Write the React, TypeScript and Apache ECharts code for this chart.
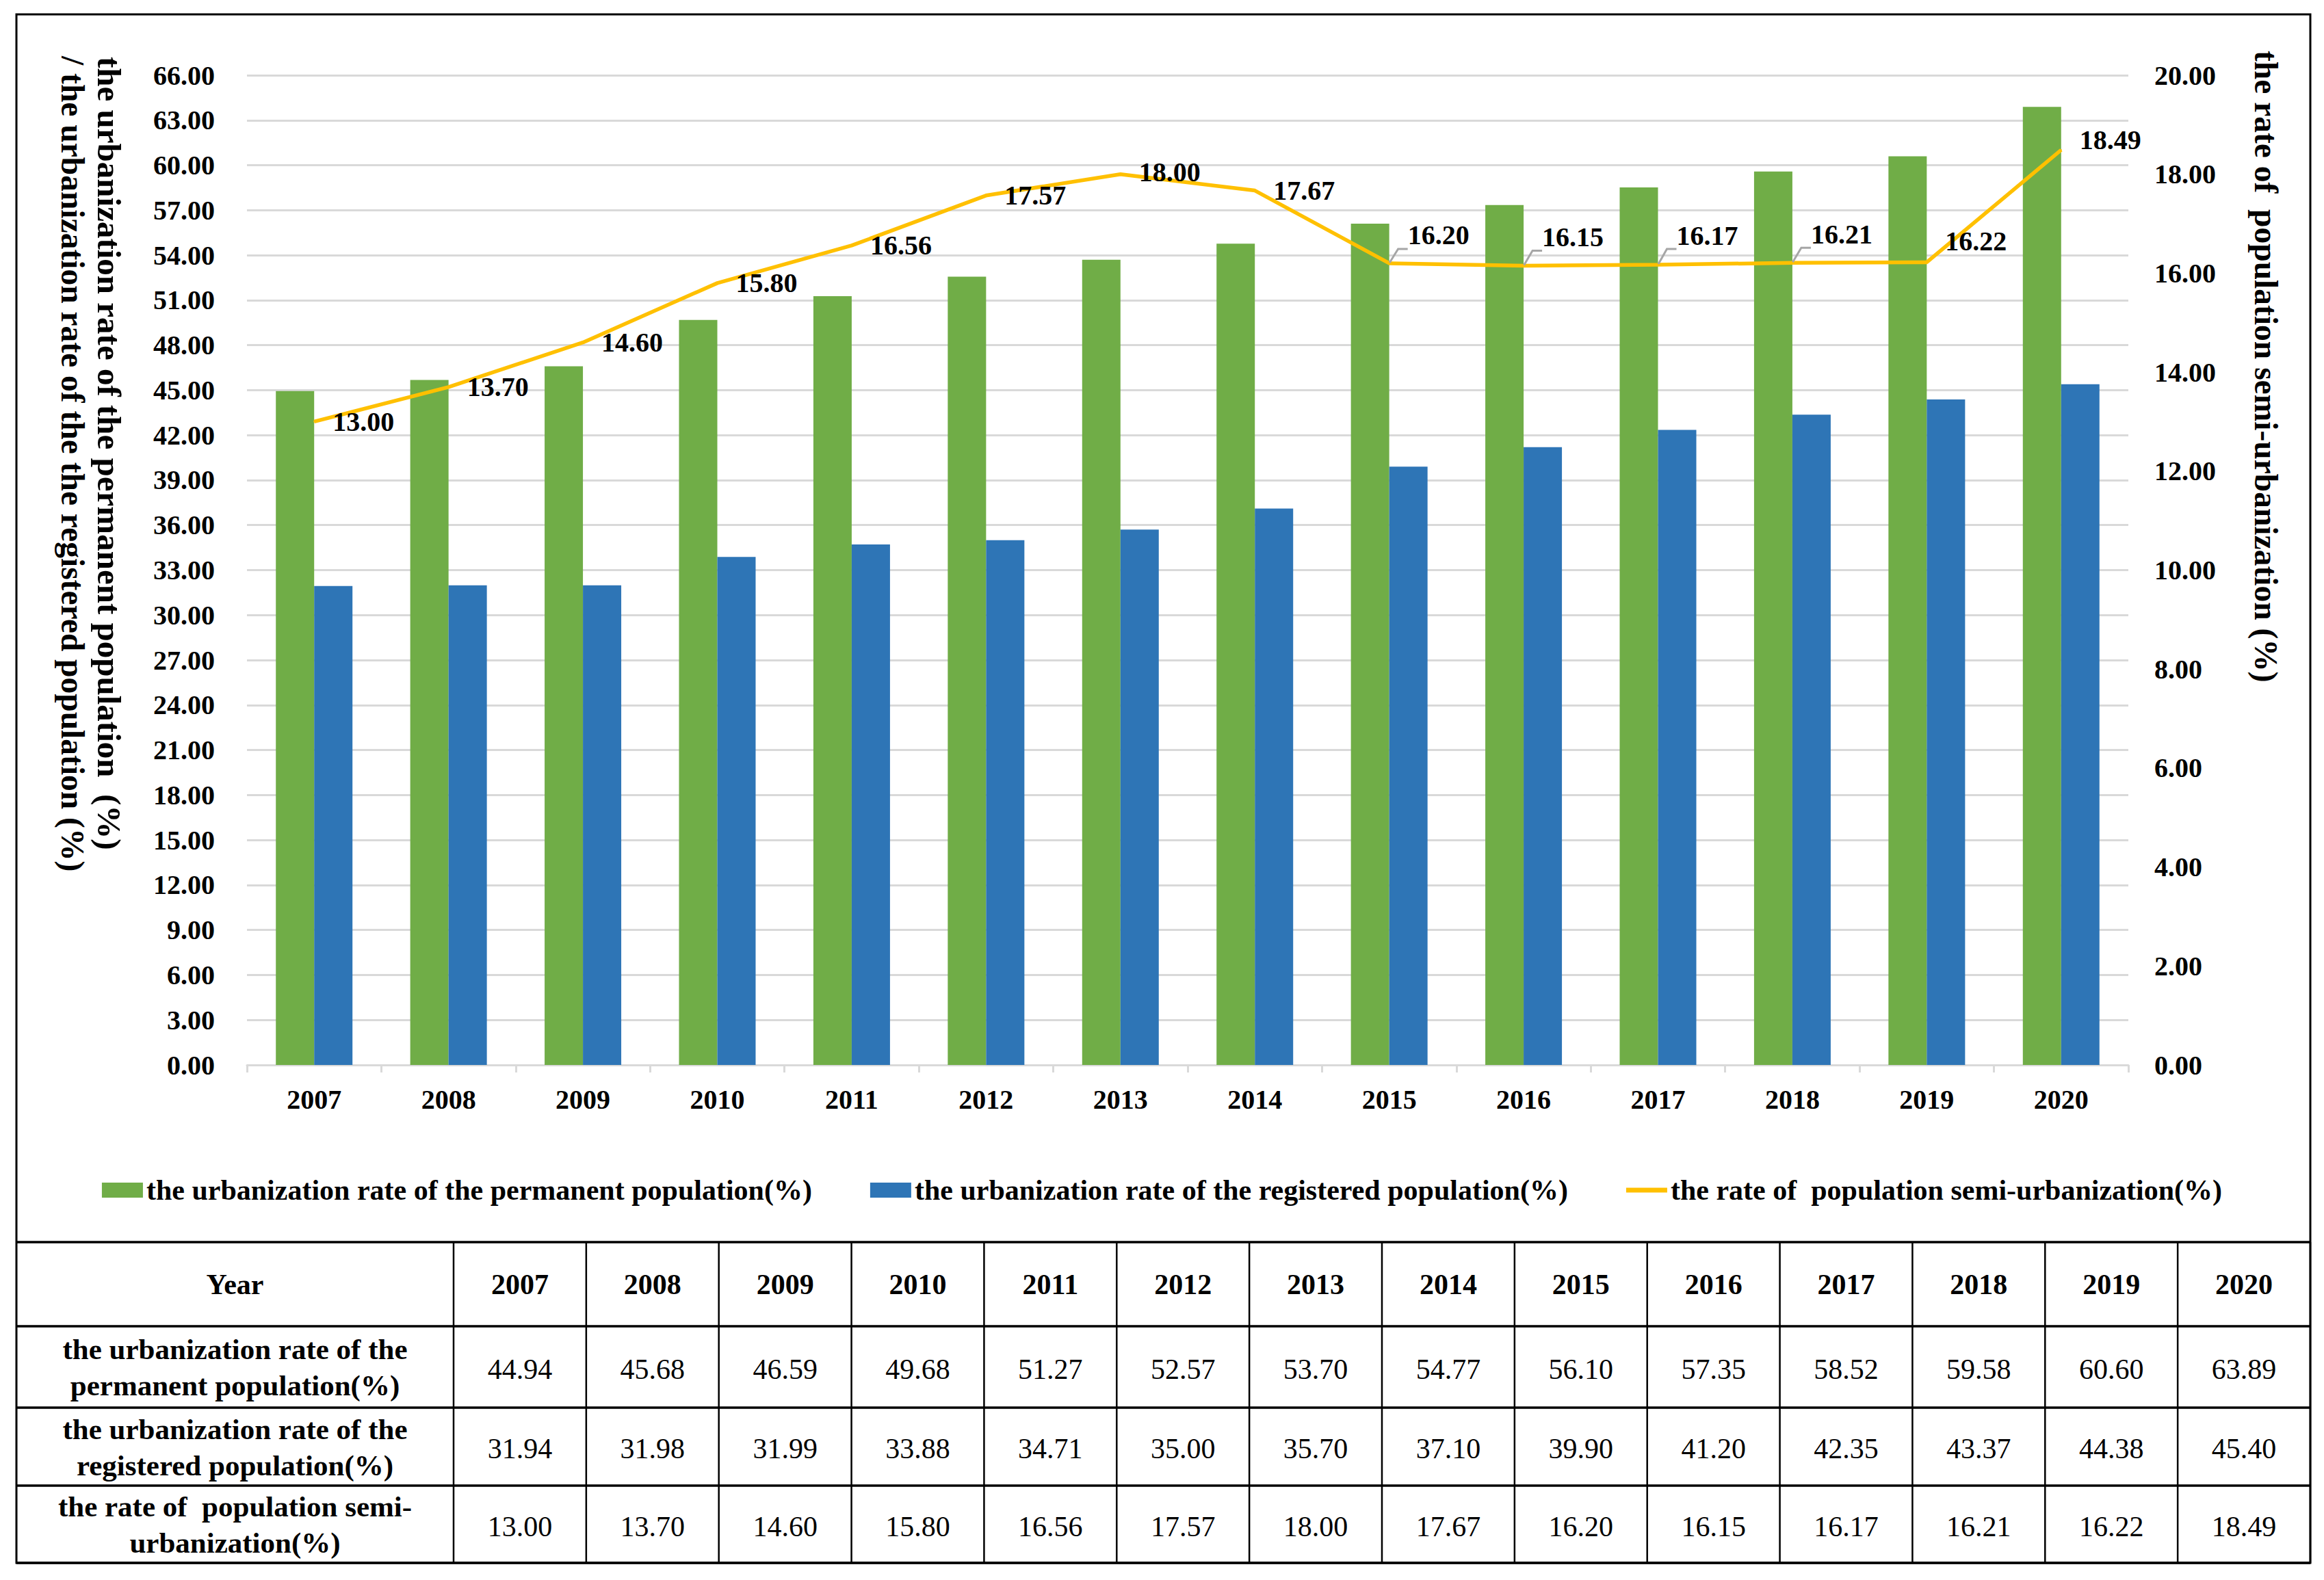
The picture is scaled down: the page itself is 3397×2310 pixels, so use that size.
import React, { useEffect, useRef } from "react";
import * as echarts from "echarts";

const years = ["2007", "2008", "2009", "2010", "2011", "2012", "2013", "2014", "2015", "2016", "2017", "2018", "2019", "2020"];
const permanentRate = [44.94, 45.68, 46.59, 49.68, 51.27, 52.57, 53.7, 54.77, 56.1, 57.35, 58.52, 59.58, 60.6, 63.89];
const registeredRate = [31.94, 31.98, 31.99, 33.88, 34.71, 35.0, 35.7, 37.1, 39.9, 41.2, 42.35, 43.37, 44.38, 45.4];
const semiRate = [13.0, 13.7, 14.6, 15.8, 16.56, 17.57, 18.0, 17.67, 16.2, 16.15, 16.17, 16.21, 16.22, 18.49];

const seriesNames = [
  "the urbanization rate of the permanent population(%)",
  "the urbanization rate of the registered population(%)",
  "the rate of  population semi-urbanization(%)",
];
const rowLabels = [
  ["the urbanization rate of the", "permanent population(%)"],
  ["the urbanization rate of the", "registered population(%)"],
  ["the rate of  population semi-", "urbanization(%)"],
];
const leftTitle = [
  "the urbanization rate of the permanent population  (%)",
  "/ the urbanization rate of the the registered population (%)",
];
const rightTitle = "the rate of  population semi-urbanization (%)";

// label styling (vertical shift of line labels and which ones get a leader line)
const labelDy = [0, 0, 0, 0, 0, 0, -3, 0, -41, -42, -43, -42, -31, -15];
const withLeader = [8, 9, 10, 11];

const W = 3397;
const H = 2310;
const FONT = '"Liberation Serif", "Times New Roman", serif';

export default function App() {
  const ref = useRef<HTMLDivElement>(null);
  useEffect(() => {
    if (!ref.current) return;
    const chart = echarts.init(ref.current, undefined, { renderer: "svg" });

    const tblL = 24;
    const tblR = 3377;
    const tblTop = 21;
    const firstColR = 663;
    const rowsY = [1816, 1939, 2058, 2172, 2285];
    const colW = (tblR - firstColR) / years.length;

    const g: any[] = [];
    // outer border
    g.push({ type: "rect", shape: { x: tblL, y: tblTop, width: tblR - tblL, height: rowsY[4] - tblTop }, style: { fill: "none", stroke: "#000", lineWidth: 3 }, z: 10 });
    rowsY.forEach((y) => {
      g.push({ type: "line", shape: { x1: tblL, y1: y, x2: tblR, y2: y }, style: { stroke: "#000", lineWidth: 3.5 }, z: 10 });
    });
    for (let i = 0; i <= years.length; i++) {
      const x = firstColR + i * colW;
      g.push({ type: "line", shape: { x1: x, y1: rowsY[0], x2: x, y2: rowsY[4] }, style: { stroke: "#000", lineWidth: 2.5 }, z: 10 });
    }
    const txt = (text: string, x: number, y: number, bold: boolean, size = 42) => ({
      type: "text",
      x,
      y,
      z: 11,
      style: {
        text,
        fill: "#000",
        fontSize: size,
        fontWeight: bold ? "bold" : "normal",
        fontFamily: FONT,
        align: "center",
        verticalAlign: "middle",
        textAlign: "center",
        textVerticalAlign: "middle",
      },
    });
    const firstColC = (tblL + firstColR) / 2;
    g.push(txt("Year", firstColC, (rowsY[0] + rowsY[1]) / 2, true));
    years.forEach((yr, i) => {
      g.push(txt(yr, firstColR + (i + 0.5) * colW, (rowsY[0] + rowsY[1]) / 2, true));
    });
    const rowData = [permanentRate, registeredRate, semiRate];
    rowData.forEach((arr, r) => {
      const cy = (rowsY[r + 1] + rowsY[r + 2]) / 2;
      g.push(txt(rowLabels[r][0], firstColC, cy - 26, true, 43));
      g.push(txt(rowLabels[r][1], firstColC, cy + 27, true, 43));
      arr.forEach((v, i) => {
        g.push(txt(v.toFixed(2), firstColR + (i + 0.5) * colW, cy + 3, false));
      });
    });
    // axis titles
    const rot = (text: string, x: number, y: number, size: number) => ({
      type: "text",
      x,
      y,
      rotation: -Math.PI / 2,
      z: 11,
      style: {
        text,
        fill: "#000",
        fontSize: size,
        fontWeight: "bold",
        fontFamily: FONT,
        align: "left",
        verticalAlign: "middle",
        textAlign: "left",
        textVerticalAlign: "middle",
      },
    });
    g.push(rot(leftTitle[0], 159, 83, 49));
    g.push(rot(leftTitle[1], 106, 82, 47.5));
    g.push(rot(rightTitle, 3312, 74, 47.5));

    const lineData = semiRate.map((v, i) => ({
      value: v,
      label: { offset: [0, labelDy[i]] },
      labelLine: { show: withLeader.indexOf(i) >= 0 },
    }));

    const axisLabelStyle = { color: "#000", fontSize: 40, fontWeight: "bold", fontFamily: FONT };

    chart.setOption({
      animation: false,
      backgroundColor: "#fff",
      textStyle: { fontFamily: FONT },
      grid: { left: 361, right: W - 3111, top: 110, bottom: H - 1557, containLabel: false },
      legend: {
        top: 1714,
        left: "center",
        itemWidth: 60,
        itemHeight: 22,
        itemGap: 85,
        textStyle: { color: "#000", fontSize: 42, fontWeight: "bold", fontFamily: FONT },
        data: [
          { name: seriesNames[0], icon: "rect" },
          { name: seriesNames[1], icon: "rect" },
          { name: seriesNames[2], icon: "path://M0 0H60V7H0Z", itemStyle: { color: "#FFC000", borderWidth: 0 } },
        ],
      },
      xAxis: {
        type: "category",
        data: years,
        axisLine: { lineStyle: { color: "#D9D9D9", width: 3 } },
        axisTick: { show: true, length: 11, lineStyle: { color: "#D9D9D9", width: 3 } },
        axisLabel: { ...axisLabelStyle, margin: 30 },
      },
      yAxis: [
        {
          type: "value",
          min: 0,
          max: 66,
          interval: 3,
          position: "left",
          axisLine: { show: false },
          axisTick: { show: false },
          axisLabel: { ...axisLabelStyle, margin: 47, formatter: (v: number) => v.toFixed(2) },
          splitLine: { lineStyle: { color: "#D9D9D9", width: 3 } },
        },
        {
          type: "value",
          min: 0,
          max: 20,
          interval: 2,
          position: "right",
          axisLine: { show: false },
          axisTick: { show: false },
          axisLabel: { ...axisLabelStyle, margin: 38, formatter: (v: number) => v.toFixed(2) },
          splitLine: { show: false },
        },
      ],
      series: [
        {
          name: seriesNames[0],
          type: "bar",
          data: permanentRate,
          barWidth: 56,
          barGap: "0%",
          itemStyle: { color: "#70AD47" },
        },
        {
          name: seriesNames[1],
          type: "bar",
          data: registeredRate,
          barWidth: 56,
          barGap: "0%",
          itemStyle: { color: "#2E75B6" },
        },
        {
          name: seriesNames[2],
          type: "line",
          yAxisIndex: 1,
          data: lineData,
          symbol: "circle",
          symbolSize: 2,
          itemStyle: { color: "#FFC000" },
          lineStyle: { color: "#FFC000", width: 5.5 },
          z: 5,
          label: {
            show: true,
            position: "right",
            distance: 26,
            color: "#000",
            fontSize: 40,
            fontWeight: "bold",
            fontFamily: FONT,
            formatter: (p: any) => Number(p.value).toFixed(2),
          },
          labelLine: { show: false, length2: 14, lineStyle: { color: "#A6A6A6", width: 3 } },
        },
      ],
      graphic: { elements: g },
    });

    return () => chart.dispose();
  }, []);

  return <div ref={ref} style={{ position: "fixed", left: 0, top: 0, width: W, height: H, background: "#fff" }} />;
}
